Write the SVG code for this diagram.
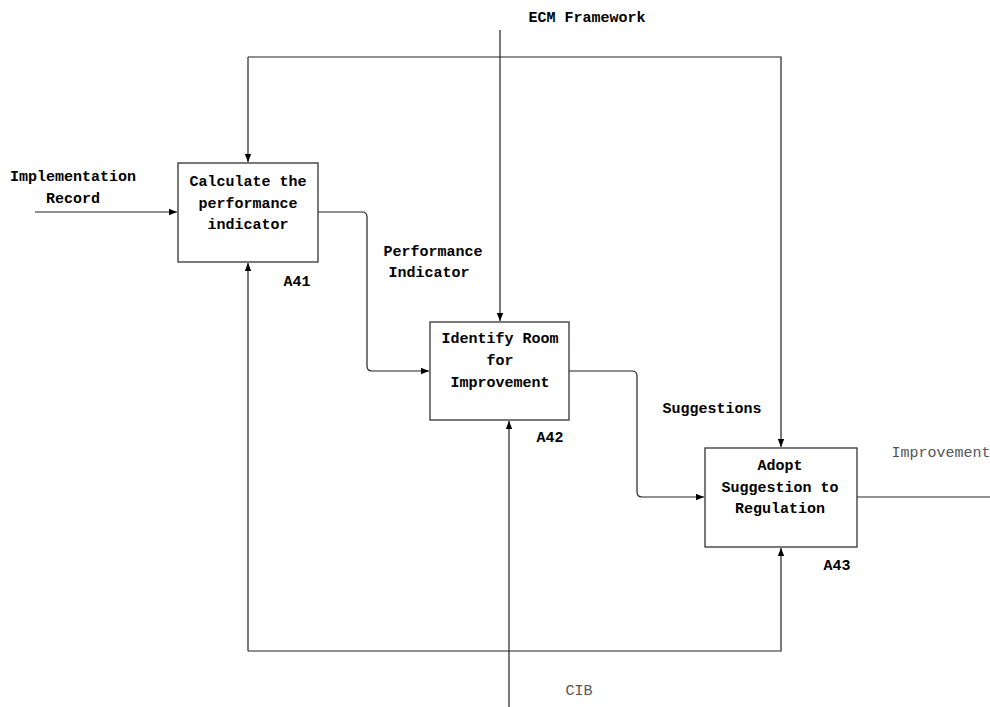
<svg xmlns="http://www.w3.org/2000/svg" width="990" height="707" viewBox="0 0 990 707">
<defs>
<marker id="arr" viewBox="0 0 10 8" refX="10" refY="4" markerWidth="8" markerHeight="7" markerUnits="userSpaceOnUse" orient="auto">
<path d="M0,0 L10,4 L0,8 Z" fill="#000"/>
</marker>
<style>
.box{fill:#fff;stroke:#333;stroke-width:1.3}
.ln{fill:none;stroke:#222;stroke-width:1.2}
.t{font-family:"Liberation Mono","DejaVu Sans Mono",monospace;font-size:15px;font-weight:bold;fill:#000;text-anchor:middle}
.g{font-family:"Liberation Mono","DejaVu Sans Mono",monospace;font-size:15px;fill:#555;text-anchor:middle}
</style>
</defs>
<rect width="990" height="707" fill="#fff"/>
<g id="connectors">
<path class="ln" d="M35,212 H177" marker-end="url(#arr)"/>
<path class="ln" d="M318,212 H362 Q367,212 367,217 V366 Q367,371 372,371 H429" marker-end="url(#arr)"/>
<path class="ln" d="M569,371 H632 Q637,371 637,376 V492 Q637,497 642,497 H704" marker-end="url(#arr)"/>
<path class="ln" d="M857,497 H990"/>
<path class="ln" d="M500,30 V321" marker-end="url(#arr)"/>
<path class="ln" d="M248,57 V162" marker-end="url(#arr)"/>
<path class="ln" d="M248,57 H781 V447" marker-end="url(#arr)"/>
<path class="ln" d="M248,651 V263" marker-end="url(#arr)"/>
<path class="ln" d="M248,651 H781 V548" marker-end="url(#arr)"/>
<path class="ln" d="M509,707 V421" marker-end="url(#arr)"/>
</g>
<g id="A41">
<rect class="box" x="178" y="163" width="140" height="99"/>
<text class="t" x="248" y="186">Calculate the</text>
<text class="t" x="248" y="208">performance</text>
<text class="t" x="248" y="229">indicator</text>
<text class="t" x="297" y="286">A41</text>
</g>
<g id="A42">
<rect class="box" x="430" y="322" width="139" height="98"/>
<text class="t" x="500" y="343">Identify Room</text>
<text class="t" x="500" y="365">for</text>
<text class="t" x="500" y="387">Improvement</text>
<text class="t" x="550" y="442">A42</text>
</g>
<g id="A43">
<rect class="box" x="705" y="448" width="152" height="99"/>
<text class="t" x="780" y="470">Adopt</text>
<text class="t" x="780" y="492">Suggestion to</text>
<text class="t" x="780" y="513">Regulation</text>
<text class="t" x="837" y="570">A43</text>
</g>
<g id="labels">
<text class="t" x="73" y="181">Implementation</text>
<text class="t" x="73" y="203">Record</text>
<text class="t" x="433" y="256">Performance</text>
<text class="t" x="429" y="277">Indicator</text>
<text class="t" x="712" y="413">Suggestions</text>
<text class="g" x="941" y="457">Improvement</text>
<text class="t" x="587" y="22">ECM Framework</text>
<text class="g" x="579" y="695">CIB</text>
</g>
</svg>
